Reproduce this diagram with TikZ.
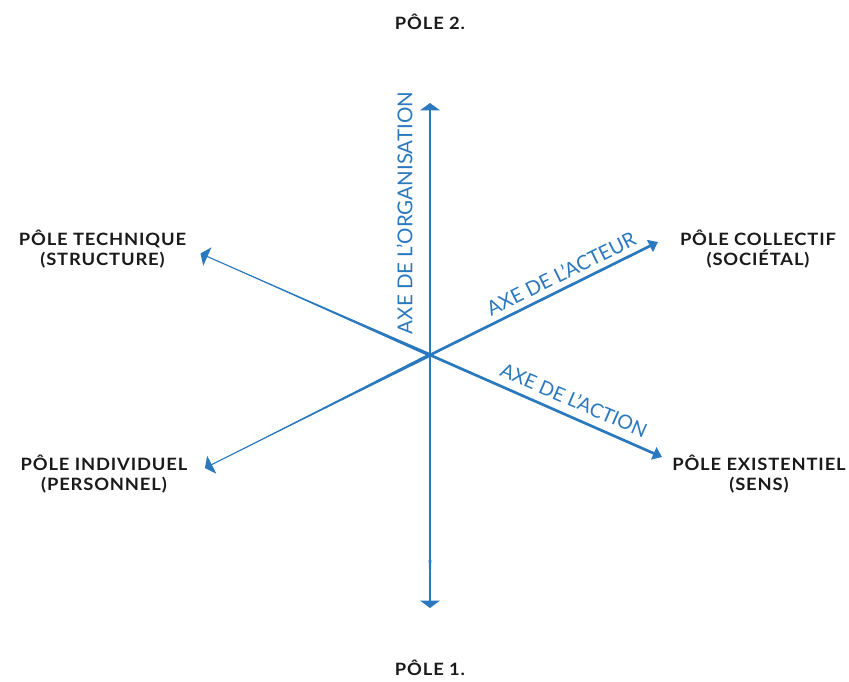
\documentclass[tikz,border=0pt]{standalone}
\usepackage{fontspec}
\setmainfont{Lato}
\newfontfamily\polefont[FakeStretch=1.08,LetterSpace=5]{Lato Bold}
\usetikzlibrary{arrows.meta,calc}
\definecolor{axisblue}{HTML}{2A78BD}
\definecolor{poleink}{HTML}{1A1A1A}
\begin{document}
\begin{tikzpicture}[x=1pt,y=-1pt,
  pole/.style={font=\polefont\fontsize{17}{19.5}\selectfont, align=center,
    text=poleink, inner sep=0pt},
  axislabel/.style={font=\fontsize{20}{20}\selectfont, text=axisblue,
    inner sep=0pt},
  thickaxis/.style={draw=axisblue, line width=2.7pt},
  thinaxis/.style={draw=axisblue, line width=1.1pt},
  widetip/.style={-{Triangle[length=7.5pt,width=20pt]}},
  slimtip/.style={-{Triangle[length=9pt,width=13pt]}},
]
\useasboundingbox (0,0) rectangle (849,682);

% crossing point and the six arrow ends
\coordinate (c) at (430,355);
\coordinate (top) at (430,103);
\coordinate (bot) at (430,608);
\coordinate (bmid) at (430,560);
\coordinate (ul) at (200.5,253.5);
\coordinate (ll) at (205,468);
\coordinate (ur) at (658,242);
\coordinate (lr) at (662,457);

% halves of constant width
\draw[thickaxis,widetip] (c) -- (top);
\draw[thickaxis,slimtip] (c) -- (ur);
\draw[thickaxis,slimtip] (c) -- (lr);
\draw[thickaxis] (c) -- (bmid);

% parts that thin out towards their ends
\foreach \s/\e/\w in {c/ul/1.8, c/ll/1.8, bmid/bot/1.35}{
  \fill[axisblue] ($(\s)!\w pt!90:(\e)$) -- ($(\e)!14pt!(\s)$)
    -- ($(\s)!\w pt!-90:(\e)$) -- cycle;
}
\draw[thinaxis,widetip] (c) -- (ul);
\draw[thinaxis,widetip] (c) -- (ll);
\draw[thinaxis,widetip] (bmid) -- (bot);

% pole names
\node[pole, anchor=base] (p2) at (430,29.5) {PÔLE 2.};
\node[pole, anchor=base] (p1) at (430,675) {PÔLE 1.};
\node[pole] (ptech) at (102.5,249) {PÔLE TECHNIQUE\\(STRUCTURE)};
\node[pole] (pcoll) at (758,249) {PÔLE COLLECTIF\\(SOCIÉTAL)};
\node[pole] (pind) at (104,474) {PÔLE INDIVIDUEL\\(PERSONNEL)};
\node[pole] (pexi) at (759,474) {PÔLE EXISTENTIEL\\(SENS)};

% axis names
\node[axislabel, font=\fontsize{20.5}{20.5}\selectfont, rotate=90] (aorg)
  at (404.5,213) {AXE DE L’ORGANISATION};
\node[axislabel, rotate=26.3] (aact) at (561,273.5) {AXE DE L’ACTEUR};
\node[axislabel, font=\fontsize{19.5}{19.5}\selectfont, rotate=-23.4] (aacn)
  at (574,400) {AXE DE L’ACTION};
\end{tikzpicture}
\end{document}
